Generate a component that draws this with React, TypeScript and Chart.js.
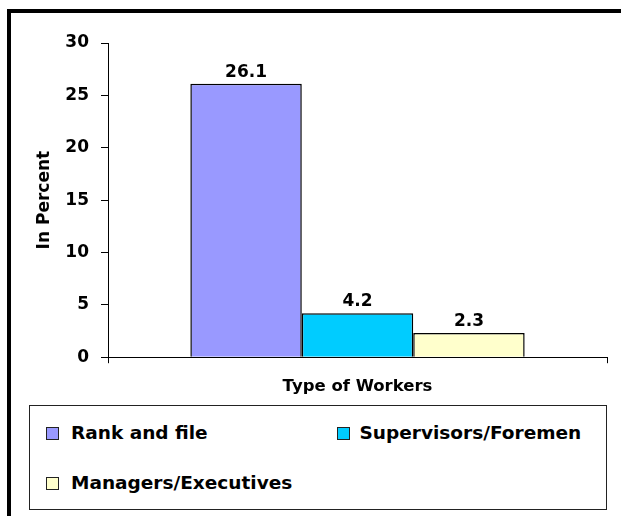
import React, { useEffect, useRef } from "react";
import { Chart, registerables } from "chart.js";

Chart.register(...registerables);

const categories = [""];
const seriesNames = ["Rank and file", "Supervisors/Foremen", "Managers/Executives"];
const seriesValues = [26.1, 4.2, 2.3];
const seriesColors = ["#9999FF", "#00CCFF", "#FFFFCC"];
const yTicks = [0, 5, 10, 15, 20, 25, 30];

const FONT = "'DejaVu Sans', sans-serif";

const valueLabels = {
  id: "valueLabels",
  afterDatasetsDraw(chart: any) {
    const ctx = chart.ctx;
    ctx.save();
    ctx.font = `bold 17px ${FONT}`;
    ctx.fillStyle = "#000";
    ctx.textAlign = "center";
    ctx.textBaseline = "alphabetic";
    chart.data.datasets.forEach((ds: any, i: number) => {
      const meta = chart.getDatasetMeta(i);
      meta.data.forEach((bar: any, j: number) => {
        const v = ds.data[j];
        ctx.fillText(String(v), bar.x, bar.y - 7);
      });
    });
    ctx.restore();
  },
};

export default function App() {
  const ref = useRef<HTMLCanvasElement | null>(null);

  useEffect(() => {
    if (!ref.current) return;
    const chart = new Chart(ref.current, {
      type: "bar",
      data: {
        labels: categories,
        datasets: seriesNames.map((name, i) => ({
          label: name,
          data: [seriesValues[i]],
          backgroundColor: seriesColors[i],
          borderColor: "#000",
          borderWidth: 1.5,
          categoryPercentage: 0.67,
          barPercentage: 1.0,
        })),
      },
      options: {
        responsive: false,
        animation: false,
        events: [],
        layout: { padding: { left: 10, right: 14, top: 43, bottom: 3 } },
        plugins: {
          legend: { display: false },
          tooltip: { enabled: false },
        },
        scales: {
          x: {
            grid: {
              display: true,
              drawOnChartArea: false,
              drawTicks: true,
              tickLength: 6,
              color: "#000",
              lineWidth: 1,
            },
            border: { display: true, color: "#000", width: 1 },
            ticks: { display: false },
            title: {
              display: true,
              text: "Type of Workers",
              color: "#000",
              font: { family: FONT, size: 16.5, weight: "bold" },
              padding: { top: 14, bottom: 0 },
            },
          },
          y: {
            min: 0,
            max: 30,
            afterBuildTicks: (scale: any) => {
              scale.ticks = yTicks.map((v) => ({ value: v }));
            },
            afterFit: (scale: any) => {
              scale.width = 98;
            },
            grid: {
              display: true,
              drawOnChartArea: false,
              drawTicks: true,
              tickLength: 7,
              color: "#000",
              lineWidth: 1,
            },
            border: { display: true, color: "#000", width: 1 },
            ticks: {
              color: "#000",
              padding: 12,
              font: { family: FONT, size: 17, weight: "bold" },
            },
            title: {
              display: true,
              text: "In Percent",
              color: "#000",
              font: { family: FONT, size: 17, weight: "bold" },
              padding: { top: 24, bottom: 0 },
            },
          },
        },
      },
      plugins: [valueLabels],
    });
    return () => chart.destroy();
  }, []);

  const legendPos = [
    { marker: 15.5, text: 41, top: 0 },
    { marker: 307, text: 329.5, top: 0 },
    { marker: 15.5, text: 41, top: 50 },
  ];

  return (
    <div
      style={{
        position: "fixed",
        left: 0,
        top: 0,
        width: 621,
        height: 516,
        overflow: "hidden",
        background: "#fff",
      }}
    >
      <div
        style={{
          position: "absolute",
          left: 7,
          top: 9,
          width: 640,
          height: 540,
          borderTop: "4px solid #000",
          borderLeft: "4px solid #000",
          boxSizing: "border-box",
        }}
      />
      <canvas
        ref={ref}
        width={621}
        height={400}
        style={{ position: "absolute", left: 0, top: 0, width: 621, height: 400 }}
      />
      <div
        style={{
          position: "absolute",
          left: 29,
          top: 405,
          width: 578,
          height: 105,
          border: "1.5px solid #222",
          boxSizing: "border-box",
          fontFamily: FONT,
          fontWeight: "bold",
          fontSize: 18.5,
          lineHeight: "18px",
          color: "#000",
        }}
      >
        {seriesNames.map((name, i) => {
          const p = legendPos[i];
          return (
            <React.Fragment key={name}>
              <span
                style={{
                  position: "absolute",
                  left: p.marker,
                  top: 20.5 + p.top,
                  width: 13,
                  height: 13,
                  boxSizing: "border-box",
                  border: "1.5px solid #222",
                  background: seriesColors[i],
                }}
              />
              <span
                style={{
                  position: "absolute",
                  left: p.text,
                  top: 18 + p.top,
                  whiteSpace: "nowrap",
                }}
              >
                {name}
              </span>
            </React.Fragment>
          );
        })}
      </div>
    </div>
  );
}
